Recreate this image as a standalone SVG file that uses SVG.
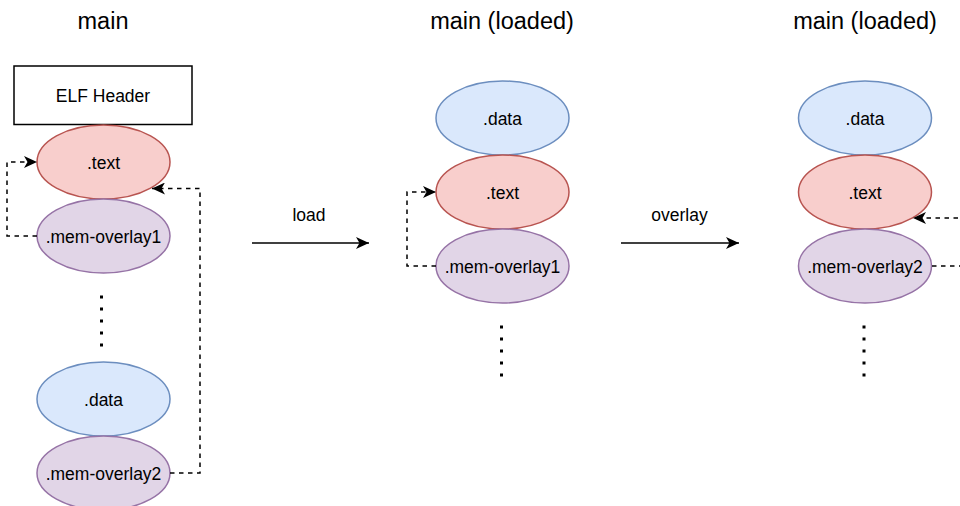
<svg xmlns="http://www.w3.org/2000/svg" width="960" height="506" viewBox="0 0 960 506">
<defs>
<style>
text{font-family:"Liberation Sans",Arial,sans-serif;fill:#000;text-anchor:middle}
.t{font-size:23.5px}
.l{font-size:17.5px}
.data{fill:#dae8fc;stroke:#6c8ebf;stroke-width:1.5}
.txt{fill:#f8cecc;stroke:#b85450;stroke-width:1.5}
.mem{fill:#e1d5e7;stroke:#9673a6;stroke-width:1.5}
.dash{fill:none;stroke:#000;stroke-width:1.5;stroke-dasharray:4.5 4.5}
.solid{fill:none;stroke:#000;stroke-width:1.5}
.dots{fill:none;stroke:#000;stroke-width:3;stroke-dasharray:3 9}
</style>
<marker id="arr" markerUnits="userSpaceOnUse" markerWidth="14" markerHeight="12" viewBox="0 0 14 12" refX="13" refY="6" orient="auto">
<path d="M0,0 L13,6 L0,12 L3.5,6 z" fill="#000"/>
</marker>
</defs>
<rect width="960" height="506" fill="#fff"/>
<g id="titles">
<text class="t" x="103" y="29">main</text>
<text class="t" x="502" y="29">main (loaded)</text>
<text class="t" x="865" y="29">main (loaded)</text>
</g>
<g id="elf-header">
<rect x="14" y="66" width="178" height="58.5" fill="#fff" stroke="#000" stroke-width="1.5"/>
<text class="l" x="103" y="102">ELF Header</text>
</g>
<g id="l-text"><ellipse class="txt" cx="103.5" cy="162" rx="66.5" ry="37"/><text class="l" x="103.5" y="168.5">.text</text></g>
<g id="l-mem1"><ellipse class="mem" cx="103.5" cy="236" rx="66.5" ry="37"/><text class="l" x="103.5" y="242.5">.mem-overlay1</text></g>
<g id="l-data"><ellipse class="data" cx="103.5" cy="399" rx="66.5" ry="37"/><text class="l" x="103.5" y="405.5">.data</text></g>
<g id="l-mem2"><ellipse class="mem" cx="103.5" cy="473" rx="66.5" ry="37"/><text class="l" x="103.5" y="479.5">.mem-overlay2</text></g>
<g id="m-data"><ellipse class="data" cx="502.5" cy="118" rx="66.5" ry="37"/><text class="l" x="502.5" y="124.5">.data</text></g>
<g id="m-text"><ellipse class="txt" cx="502.5" cy="192" rx="66.5" ry="37"/><text class="l" x="502.5" y="198.5">.text</text></g>
<g id="m-mem1"><ellipse class="mem" cx="502.5" cy="266" rx="66.5" ry="37"/><text class="l" x="502.5" y="272.5">.mem-overlay1</text></g>
<g id="r-data"><ellipse class="data" cx="865" cy="118" rx="66.5" ry="37"/><text class="l" x="865" y="124.5">.data</text></g>
<g id="r-text"><ellipse class="txt" cx="865" cy="192" rx="66.5" ry="37"/><text class="l" x="865" y="198.5">.text</text></g>
<g id="r-mem2"><ellipse class="mem" cx="865" cy="266" rx="66.5" ry="37"/><text class="l" x="865" y="272.5">.mem-overlay2</text></g>
<g id="ellipsis">
<line class="dots" x1="101.5" y1="295.5" x2="101.5" y2="348"/>
<line class="dots" x1="501.5" y1="325.5" x2="501.5" y2="378"/>
<line class="dots" x1="864" y1="325.5" x2="864" y2="378"/>
</g>
<g id="connectors">
<path class="dash" d="M37,236 H7 V162 H37" marker-end="url(#arr)"/>
<path class="dash" d="M170,473 H200 V188.5 H152" marker-end="url(#arr)"/>
<path class="dash" d="M436,266 H407 V192 H436" marker-end="url(#arr)"/>
<path class="dash" d="M932,266 H975 V218 H913" marker-end="url(#arr)"/>
<path class="solid" d="M252,243 H369" marker-end="url(#arr)"/>
<path class="solid" d="M621,243 H739" marker-end="url(#arr)"/>
<text class="l" x="309" y="221">load</text>
<text class="l" x="679.5" y="221">overlay</text>
</g>
</svg>
